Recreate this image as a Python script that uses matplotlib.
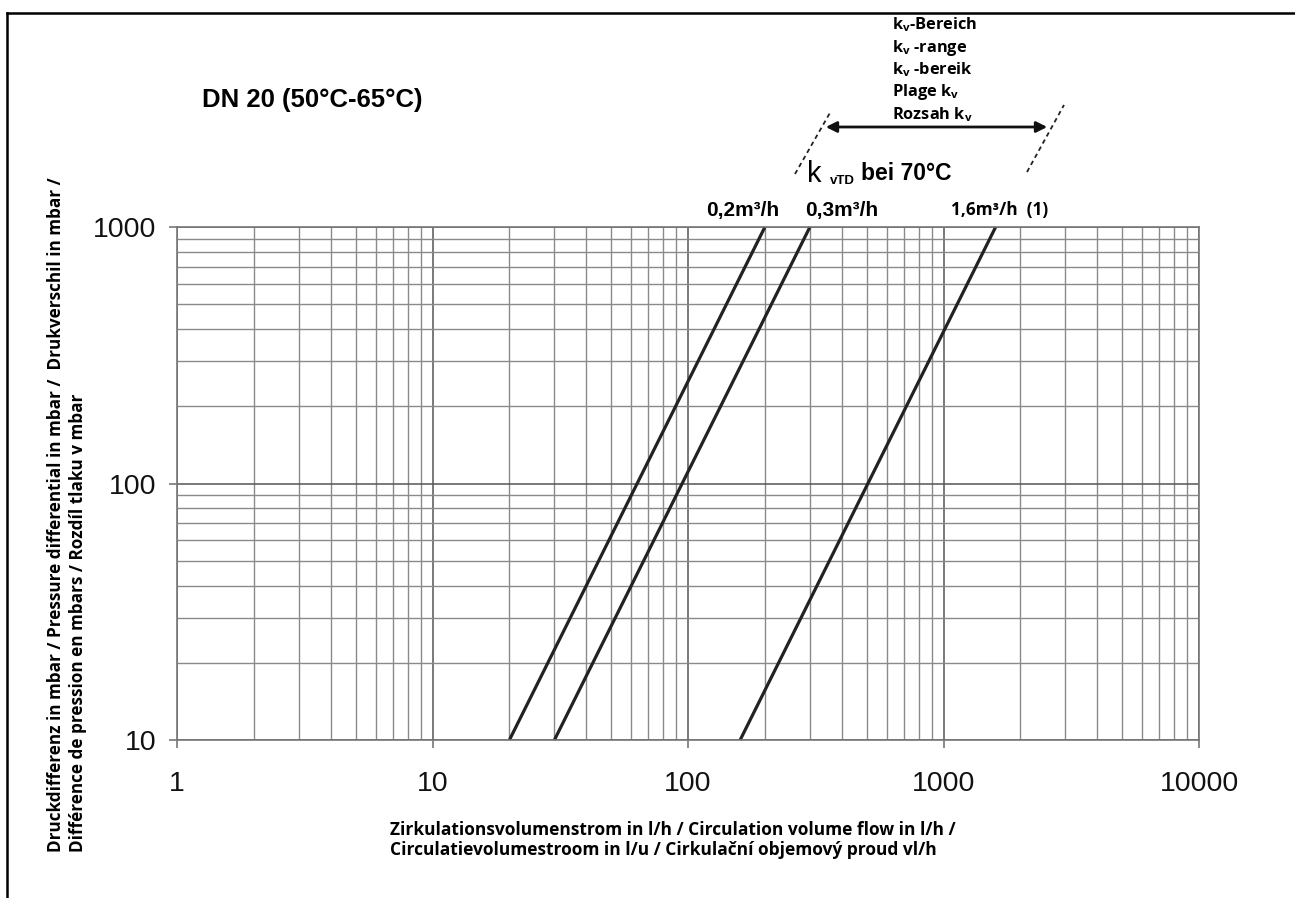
import numpy as np
import matplotlib
matplotlib.use("Agg")
import matplotlib.pyplot as plt
from matplotlib.lines import Line2D
from matplotlib.patches import FancyArrowPatch

# ............................................
# DATA
# ............................................
dp_mbar = [10, 1000]                 # pressure differential range
flow_kv_02 = [20, 200]               # l/h for kv 0,2 m3/h
flow_kv_03 = [30, 300]               # l/h for kv 0,3 m3/h
flow_kv_16 = [160, 1600]             # l/h for kv 1,6 m3/h

x_ticks = [1, 10, 100, 1000, 10000]
x_tick_labels = ["1", "10", "100", "1000", "10000"]
y_ticks = [10, 100, 1000]
y_tick_labels = ["10", "100", "1000"]

curve_labels = ["0,2m³/h", "0,3m³/h", "1,6m³/h  (1)"]
kv_range_lines = ["k$_\\mathregular{v}$-Bereich", "k$_\\mathregular{v}$ -range",
                  "k$_\\mathregular{v}$ -bereik", "Plage k$_\\mathregular{v}$",
                  "Rozsah k$_\\mathregular{v}$"]

W, H = 1295, 898
plt.rcParams["mathtext.fontset"] = "custom"
plt.rcParams["mathtext.rm"] = "Open Sans:bold"


def fx(px):
    return px / W


def fy(py):
    return 1 - py / H


fig = plt.figure(figsize=(W / 100, H / 100), dpi=100)
ax = fig.add_axes([fx(177), fy(740), fx(1199) - fx(177), fy(227) - fy(740)])

ax.set_xscale("log")
ax.set_yscale("log")
ax.set_xlim(1, 10000)
ax.set_ylim(10, 1000)

# ----------------------------------------
# GRID
# ----------------------------------------
ax.grid(which="major", color="#555555", linewidth=1.1)
ax.grid(which="minor", color="#8a8a8a", linewidth=1.0)
for s in ax.spines.values():
    s.set_color("#777777")
    s.set_linewidth(1.2)

ax.set_xticks(x_ticks)
ax.set_xticklabels(x_tick_labels)
ax.set_yticks(y_ticks)
ax.set_yticklabels(y_tick_labels)
ax.tick_params(which="major", length=6, color="#777777", width=1.2,
               labelsize=20.5, pad=16)
ax.tick_params(axis="y", pad=9)
ax.tick_params(which="minor", length=0)
for lab in ax.get_xticklabels() + ax.get_yticklabels():
    lab.set_family("Liberation Sans")
    lab.set_color("#111111")

# ----------------------------------------
# KV CURVES
# ----------------------------------------
for flow in (flow_kv_02, flow_kv_03, flow_kv_16):
    ax.plot(flow, dp_mbar, color="#222222", linewidth=2.3,
            solid_capstyle="butt", clip_on=False)

# curve labels above the top edge
ax.annotate(curve_labels[0], (flow_kv_02[1], dp_mbar[1]), xytext=(-16, 12),
            textcoords="offset points", ha="center", va="center",
            fontsize=15, fontweight="bold", family="Liberation Sans")
ax.annotate(curve_labels[1], (flow_kv_03[1], dp_mbar[1]), xytext=(23, 12),
            textcoords="offset points", ha="center", va="center",
            fontsize=15, fontweight="bold", family="Liberation Sans")
ax.annotate(curve_labels[2], (flow_kv_16[1], dp_mbar[1]), xytext=(3, 12),
            textcoords="offset points", ha="center", va="center",
            fontsize=12.4, fontweight="bold", family="Open Sans")

# ----------------------------------------
# TEXTS
# ----------------------------------------
fig.text(fx(202), fy(100), "DN 20 (50°C-65°C)", ha="left", va="center",
         fontsize=18.5, fontweight="bold", family="Liberation Sans")

fig.text(fx(390), fy(840),
         "Zirkulationsvolumenstrom in l/h / Circulation volume flow in l/h /\n"
         "Circulatievolumestroom in l/u / Cirkulační objemový proud vl/h",
         ha="left", va="center", fontsize=12.5, fontweight="bold",
         family="Open Sans", linespacing=1.2)

fig.text(fx(67), fy(852),
         "Druckdifferenz in mbar / Pressure differential in mbar /  Drukverschil in mbar /\n"
         "Différence de pression en mbars / Rozdíl tlaku v mbar",
         ha="left", va="center", rotation=90, rotation_mode="anchor",
         fontsize=12.3, fontweight="bold", family="Open Sans",
         linespacing=1.35, multialignment="left")

for i, line in enumerate(kv_range_lines):
    fig.text(fx(892), fy(25 + 22.5 * i), line, ha="left", va="center",
             fontsize=11.8, fontweight="bold", family="Open Sans")

fig.text(fx(807), fy(174), "k", ha="left", va="center", fontsize=21,
         family="Liberation Sans")
fig.text(fx(830), fy(181), "vTD", ha="left", va="center", fontsize=9.5,
         fontweight="bold", family="Liberation Sans")
fig.text(fx(861), fy(173), "bei 70°C", ha="left", va="center", fontsize=16.5,
         fontweight="bold", family="Liberation Sans")

# kv range arrow and dashed boundaries
fig.add_artist(FancyArrowPatch((fx(823), fy(127)), (fx(1050), fy(127)),
                               transform=fig.transFigure, arrowstyle="<|-|>",
                               mutation_scale=16, color="#111111", linewidth=2))
fig.add_artist(Line2D([fx(795), fx(831)], [fy(174), fy(111)],
                      transform=fig.transFigure, color="#222222",
                      linewidth=1.3, linestyle=(0, (2.5, 2))))
fig.add_artist(Line2D([fx(1027), fx(1064)], [fy(172), fy(105)],
                      transform=fig.transFigure, color="#222222",
                      linewidth=1.3, linestyle=(0, (2.5, 2))))

# page frame (top and left)
fig.add_artist(Line2D([fx(7), 1.0], [fy(13), fy(13)],
                      transform=fig.transFigure, color="black", linewidth=1.8))
fig.add_artist(Line2D([fx(7), fx(7)], [fy(13), 0.0],
                      transform=fig.transFigure, color="black", linewidth=1.8))

fig.savefig("out.png", dpi=100)
plt.close(fig)
